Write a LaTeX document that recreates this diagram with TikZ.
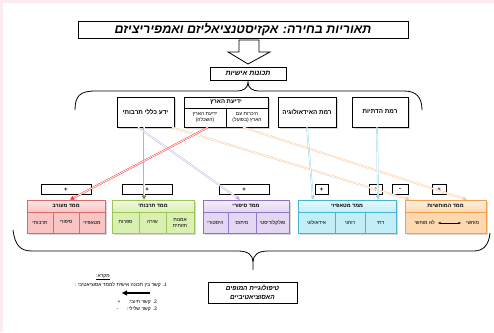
\documentclass[tikz,border=0pt]{standalone}
\usepackage{fontspec}
\setmainfont{Liberation Sans}
\newfontfamily\hebfont[Script=Hebrew]{Liberation Sans}
\usetikzlibrary{arrows.meta,shadows}
\TeXXeTstate=1
\newcommand{\heb}[1]{{\hebfont\beginR #1\endR}}

\definecolor{pagepink}{HTML}{FBEDEF}
\definecolor{mixline}{HTML}{D96A6A}   \definecolor{mixfill}{HTML}{F8C4C4}
\definecolor{cultline}{HTML}{9CC45A}  \definecolor{cultfill}{HTML}{DAF0B0}
\definecolor{storyline}{HTML}{9274C2} \definecolor{storyfill}{HTML}{E2D6F2}
\definecolor{metaline}{HTML}{48B4D2}  \definecolor{metafill}{HTML}{C2EEF8}
\definecolor{tangline}{HTML}{F2A04A}  \definecolor{tangfill}{HTML}{FDD8B0}
\definecolor{linkred}{HTML}{FF2A2A}
\definecolor{linkorange}{HTML}{FBC595}
\definecolor{linkblue}{HTML}{9AD6E6}
\definecolor{linkpurple}{HTML}{BBAEDC}
\definecolor{linkkhaki}{HTML}{BDB894}
\definecolor{tipkhaki}{HTML}{857A45}

\begin{document}
\begin{tikzpicture}[x=1pt,y=-1pt,
    shade box/.style={drop shadow={shadow xshift=1.5pt,shadow yshift=-1.5pt,opacity=.3}},
    trait/.style={draw,fill=white,line width=.7pt,shade box,inner sep=.5pt,align=center,
                  font=\bfseries\fontsize{6.3}{7.5}\selectfont},
    dimhead/.style={draw=#1line,top color=#1fill!40!white,bottom color=#1fill,line width=.6pt,
                    minimum height=12pt,inner sep=0pt,shade box,font=\bfseries\fontsize{5.3}{6}\selectfont},
    dimcell/.style={draw=#1line,fill=#1fill,line width=.6pt,minimum height=21pt,inner sep=0pt,
                    align=center,shade box,font=\fontsize{5}{6}\selectfont},
    signbox/.style={draw,fill=white,line width=.7pt,minimum height=10pt,inner sep=0pt,
                    font=\bfseries\fontsize{6}{6}\selectfont},
    link/.style={line width=.45pt,draw=#1,double=white,double distance=.8pt,
                 -{Triangle[length=4pt,width=4pt,color=#1]}},
    key/.style={inner sep=0pt,font=\fontsize{5}{6}\selectfont}]

  \useasboundingbox (0,0) rectangle (494,332);
  \fill[pagepink] (0,0) rectangle (494,332);
  \fill[white] (3,3) rectangle (494,332);

  \node[draw,line width=.8pt,minimum width=330pt,minimum height=17pt,inner sep=0pt,
        font=\bfseries\itshape\fontsize{12.5}{14}\selectfont] (title) at (243,29.5)
        {\heb{תאוריות בחירה: אקזיסטנציאליזם ואמפיריציזם}};
  \draw[line width=.8pt,fill=white] (239,40) -- (259,40) -- (259,52) -- (270,52) -- (248,64)
        -- (228,52) -- (239,52) -- cycle;
  \node[draw,line width=.8pt,minimum width=76pt,minimum height=13pt,inner sep=0pt,
        font=\bfseries\itshape\fontsize{7}{8}\selectfont] (traits) at (248,73.5) {\heb{תכונות אישיות}};

  \draw[line width=.8pt] (75,110) .. controls (75,96) and (80,91) .. (95,91) -- (236,91)
        .. controls (244,91) and (248,88) .. (248,82) .. controls (248,88) and (252,91) .. (260,91)
        -- (404,91) .. controls (416,91) and (422,97) .. (422,110);

  % personal traits
  \node[trait,minimum width=57pt,minimum height=30pt] (cult) at (145.5,112) {\heb{ידע כללי תרבותי}};
  \node[trait,minimum width=84pt,minimum height=11pt,font=\bfseries\fontsize{6}{7}\selectfont] (land)
        at (226,102.5) {\heb{ידיעת הארץ}};
  \node[trait,minimum width=42pt,minimum height=19pt,font=\fontsize{5}{6.2}\selectfont] (landedu)
        at (205,117.5) {\heb{ידיעת הארץ}\\\heb{(השכלה)}};
  \node[trait,minimum width=42pt,minimum height=19pt,font=\fontsize{5}{6.2}\selectfont] (landvisit)
        at (247,117.5) {\heb{היכרות עם}\\\heb{הארץ (בפועל)}};
  \node[trait,minimum width=58pt,minimum height=30pt] (ideo) at (307,112) {\heb{רמת האידאולוגיה}};
  \node[trait,minimum width=56pt,minimum height=30pt] (relig) at (380,112) {\heb{רמת הדתיות}};

  % associative dimensions
  \node[dimhead=mix,minimum width=78pt] (mix) at (66,206) {\heb{ממד מעורב}};
  \node[dimcell=mix,minimum width=26pt] (mixa) at (40,222.5) {\heb{תרבותי}};
  \node[dimcell=mix,minimum width=26pt] (mixb) at (66,222.5) {\heb{סיפורי}};
  \node[dimcell=mix,minimum width=26pt] (mixc) at (92,222.5) {\heb{מטאפיזי}};

  \node[dimhead=cult,minimum width=82pt] (cultd) at (153,206) {\heb{ממד תרבותי}};
  \node[dimcell=cult,minimum width=27pt] (cultda) at (125.5,222.5) {\heb{ספרות}};
  \node[dimcell=cult,minimum width=27pt] (cultdb) at (152.5,222.5) {\heb{שירה}};
  \node[dimcell=cult,minimum width=28pt] (cultdc) at (180,222.5) {\heb{אמנות}\\\heb{חזותית}};

  \node[dimhead=story,minimum width=86pt] (story) at (246,206) {\heb{ממד סיפורי}};
  \node[dimcell=story,minimum width=25pt] (storya) at (215.5,222.5) {\heb{היסטורי}};
  \node[dimcell=story,minimum width=28pt] (storyb) at (242,222.5) {\heb{מיתוס}};
  \node[dimcell=story,minimum width=33pt] (storyc) at (272.5,222.5) {\heb{פולקלוריסטי}};

  \node[dimhead=meta,minimum width=98pt] (meta) at (347,206) {\heb{ממד מטאפיזי}};
  \node[dimcell=meta,minimum width=37pt] (metaa) at (316.5,222.5) {\heb{אידאולוגי}};
  \node[dimcell=meta,minimum width=30pt] (metab) at (350,222.5) {\heb{רוחני}};
  \node[dimcell=meta,minimum width=31pt] (metac) at (380.5,222.5) {\heb{דתי}};

  \node[dimhead=tang,minimum width=81pt] (tang) at (445.5,206) {\heb{ממד המוחשיות}};
  \node[dimcell=tang,minimum width=81pt] (tangd) at (445.5,222.5) {};
  \node[key,anchor=west] (tangyes) at (466,223) {\heb{מוחשי}};
  \node[key,anchor=east] (tangno) at (435,223) {\heb{לא מוחשי}};
  \draw[line width=.8pt,{Stealth[length=3pt]}-{Stealth[length=3pt]}]
        ([xshift=3pt]tangno.east) -- ([xshift=-5pt]tangyes.west);

  % signs
  \node[signbox,minimum width=50pt] (s1) at (66,189.5) {+};
  \node[signbox,minimum width=50pt] (s2) at (147,189.5) {+};
  \node[signbox,minimum width=50pt] (s3) at (244,189.5) {+};
  \node[signbox,minimum width=13pt] (s4) at (321.5,189.5) {+};
  \node[signbox,minimum width=13pt] (s5) at (375.5,189.5) {+};
  \node[signbox,minimum width=16pt] (s6) at (400,189.5) {-};
  \node[signbox,minimum width=14pt] (s7) at (439,189.5) {+};

  \path
    ([xshift=-1.5pt]cult.south) edge [link=linkkhaki,-{Triangle[length=4pt,width=4pt,color=tipkhaki]}]
        ([xshift=-9pt]cultd.north)
    ([xshift=-7.5pt]cult.south) edge [link=linkpurple] ([xshift=-6pt]story.north)
    ([xshift=26.5pt]cult.south) edge [link=linkorange] ([xshift=5pt]tang.north west)
    ([xshift=-4pt]landvisit.south) edge [link=linkorange] ([xshift=21.5pt]tang.north)
    ([xshift=3pt]landedu.south) edge [link=linkred] ([xshift=4pt]mix.north)
    (ideo.south) edge [link=linkblue] ([xshift=-34pt]meta.north)
    ([xshift=-3pt]relig.south) edge [link=linkblue] ([xshift=31pt]meta.north);

  \draw[line width=.8pt] (13,230) .. controls (15,245) and (20,251) .. (32,251) -- (238,251)
        .. controls (248,251) and (253,255) .. (253,262) -- (253,270) (253,262)
        .. controls (253,255) and (258,251) .. (268,251) -- (474,251)
        .. controls (484,251) and (489,244) .. (490,233);

  \node[draw,line width=.8pt,minimum width=89pt,minimum height=21pt,inner sep=0pt,align=center,
        font=\bfseries\itshape\fontsize{6.5}{9}\selectfont] (typology) at (252.5,292.5)
        {\heb{טיפולוגיית המופים}\\\heb{האסוציאטיביים}};

  % legend
  \node[key] (keytitle) at (103,277) {\underline{\heb{מקרא:}}};
  \node[key,anchor=east] (key1) at (167,285) {\heb{1. קשר בין תכונה אישית לממד אסוציאטיבי :}};
  \coordinate (keytail) at (150,293);
  \coordinate (keyhead) at (122,293);
  \draw[line width=.5pt,double=black,double distance=.8pt,-{Triangle[length=5pt,width=5pt]}]
        (keytail) -- (keyhead);
  \node[key,anchor=east] (key2) at (157,302) {\heb{2. קשר חיובי:\hspace{8pt}+}};
  \node[key,anchor=east] (key3) at (157,309) {\heb{3. קשר שלילי:\hspace{9pt}-}};
\end{tikzpicture}
\end{document}
